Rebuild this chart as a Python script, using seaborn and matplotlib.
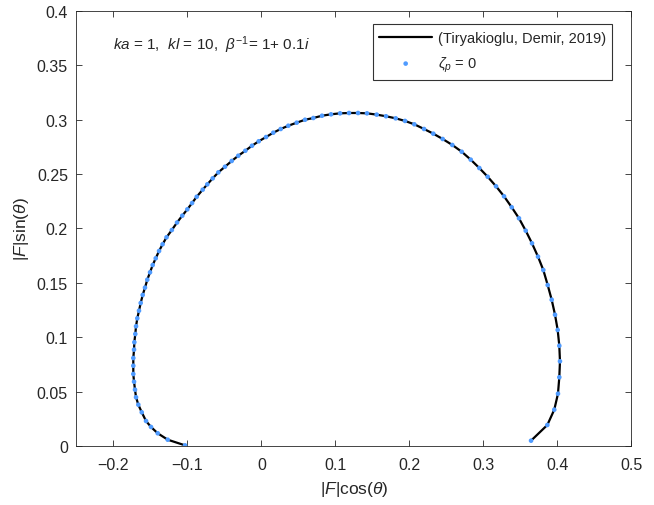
import matplotlib
matplotlib.use('Agg')
import pandas as pd
import matplotlib.pyplot as plt
import seaborn as sns

# values (|F|cos(theta), |F|sin(theta))
f_cos = [-0.1031, -0.1265, -0.1400, -0.1491, -0.1558, -0.1616, -0.1662, -0.1693, -0.1707, -0.1720,
         -0.1730, -0.1730, -0.1730, -0.1720, -0.1716, -0.1703, -0.1693, -0.1676, -0.1653, -0.1630,
         -0.1603, -0.1572, -0.1541, -0.1504, -0.1468, -0.1427, -0.1382, -0.1334, -0.1281, -0.1209,
         -0.1139, -0.1068, -0.1000, -0.0936, -0.0873, -0.0792, -0.0730, -0.0657, -0.0581, -0.0491,
         -0.0400, -0.0311, -0.0216, -0.0126, -0.0035, 0.0064, 0.0162, 0.0262, 0.0365, 0.0478,
         0.0591, 0.0703, 0.0820, 0.0942, 0.1064, 0.1185, 0.1307, 0.1428, 0.1559, 0.1685,
         0.1816, 0.1942, 0.2068, 0.2199, 0.2324, 0.2451, 0.2581, 0.2708, 0.2830, 0.2946,
         0.3059, 0.3172, 0.3280, 0.3384, 0.3482, 0.3573, 0.3658, 0.3739, 0.3811, 0.3870,
         0.3924, 0.3969, 0.4005, 0.4027, 0.4036, 0.4027, 0.4009, 0.3959, 0.3865, 0.3645]
f_sin = [0.0006, 0.0058, 0.0117, 0.0175, 0.0230, 0.0310, 0.0380, 0.0448, 0.0518, 0.0591,
         0.0662, 0.0738, 0.0809, 0.0886, 0.0954, 0.1030, 0.1101, 0.1174, 0.1244, 0.1315,
         0.1389, 0.1456, 0.1529, 0.1597, 0.1664, 0.1726, 0.1793, 0.1855, 0.1919, 0.1986,
         0.2055, 0.2118, 0.2176, 0.2234, 0.2292, 0.2357, 0.2406, 0.2461, 0.2516, 0.2568,
         0.2621, 0.2669, 0.2715, 0.2761, 0.2802, 0.2841, 0.2881, 0.2915, 0.2945, 0.2973,
         0.3000, 0.3016, 0.3037, 0.3050, 0.3059, 0.3062, 0.3062, 0.3059, 0.3047, 0.3032,
         0.3013, 0.2989, 0.2958, 0.2915, 0.2872, 0.2823, 0.2768, 0.2706, 0.2633, 0.2556,
         0.2476, 0.2388, 0.2296, 0.2195, 0.2094, 0.1980, 0.1864, 0.1741, 0.1618, 0.1480,
         0.1345, 0.1207, 0.1067, 0.0922, 0.0779, 0.0632, 0.0481, 0.0334, 0.0193, 0.0049]

x_ticks = [-0.2, -0.1, 0, 0.1, 0.2, 0.3, 0.4, 0.5]
x_labels = ['\u22120.2', '\u22120.1', '0', '0.1', '0.2', '0.3', '0.4', '0.5']
y_ticks = [0, 0.05, 0.1, 0.15, 0.2, 0.25, 0.3, 0.35, 0.4]
y_labels = ['0', '0.05', '0.1', '0.15', '0.2', '0.25', '0.3', '0.35', '0.4']

ref_label = '(Tiryakioglu, Demir, 2019)'
dot_label = r'$\zeta_p$ = 0'

df = pd.DataFrame({'x': f_cos, 'y': f_sin})

sns.set_style('ticks')
plt.rcParams['font.family'] = ['Liberation Sans', 'DejaVu Sans']
plt.rcParams['mathtext.fontset'] = 'custom'
plt.rcParams['mathtext.rm'] = 'Liberation Sans'
plt.rcParams['mathtext.it'] = 'Liberation Sans:italic'
plt.rcParams['mathtext.bf'] = 'Liberation Sans:bold'

fig = plt.figure(figsize=(6.54, 5.06), dpi=100)
ax = fig.add_axes([0.1167, 0.1166, 0.8486, 0.8597])

# estimator=None so repeated x values are not averaged
sns.lineplot(data=df, x='x', y='y', sort=False, estimator=None, color='black',
             linewidth=1.6, label=ref_label, ax=ax)
sns.scatterplot(data=df, x='x', y='y', color='#4f9bff', s=11, edgecolor='none',
                label=dot_label, ax=ax, zorder=3)

ax.set_xlim(-0.25, 0.5)
ax.set_ylim(0, 0.4)
ax.set_xticks(x_ticks)
ax.set_xticklabels(x_labels)
ax.set_yticks(y_ticks)
ax.set_yticklabels(y_labels)

axis_grey = '#262626'
for s in ax.spines.values():
    s.set_visible(True)
    s.set_color(axis_grey)
    s.set_linewidth(0.6)
ax.tick_params(direction='in', length=4, width=0.6, colors=axis_grey,
               labelsize=11.5, top=True, right=True)
ax.tick_params(axis='x', pad=8)
ax.tick_params(axis='y', pad=6)

ax.set_xlabel(r'$|F|\mathrm{cos}(\theta)$', fontsize=12.5, color=axis_grey, labelpad=5)
ax.set_ylabel(r'$|F|\mathrm{sin}(\theta)$', fontsize=12.5, color=axis_grey, labelpad=4)

ax.text(0.066, 0.923, r'$ka$ = 1,  $kl$ = 10,  $\beta^{-1}$= 1+ 0.1$i$',
        transform=ax.transAxes, fontsize=11, ha='left', va='center')

leg = ax.legend(loc='upper right', bbox_to_anchor=(0.966, 0.969), fontsize=10.5,
                frameon=True, fancybox=False, handlelength=3.6, handletextpad=0.4,
                borderpad=0.45, labelspacing=0.65, markerscale=1.0, borderaxespad=0)
leg.get_frame().set_edgecolor('black')
leg.get_frame().set_linewidth(0.8)

fig.savefig('out.png', dpi=100)
